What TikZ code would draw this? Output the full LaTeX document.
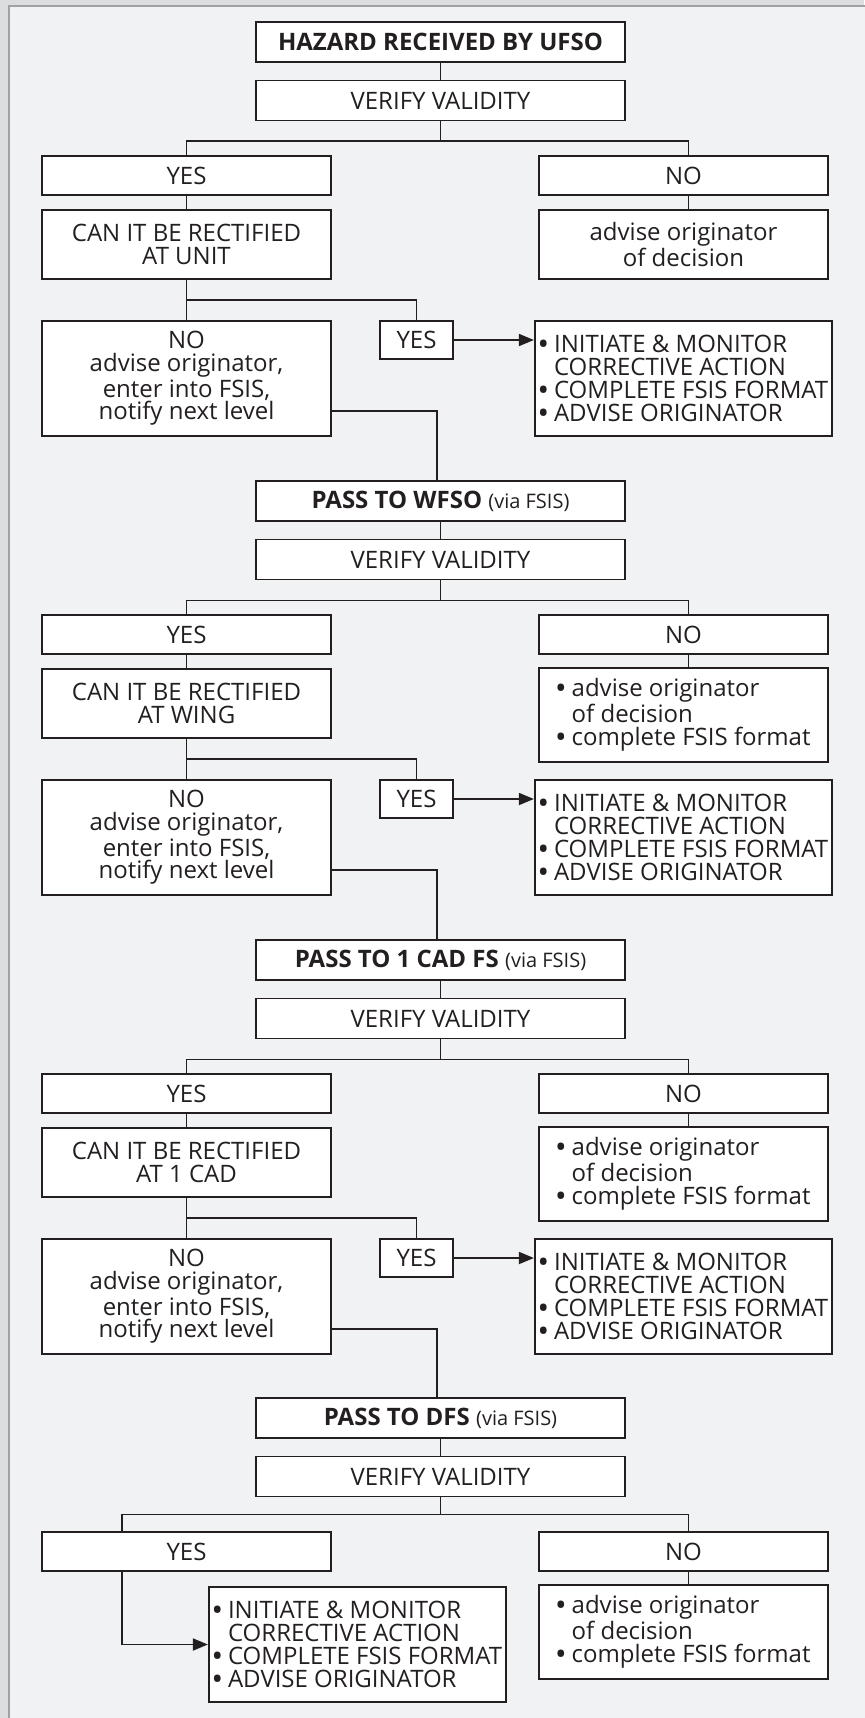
\documentclass[tikz,border=0pt]{standalone}
\usepackage{xcolor}
\usepackage{fontspec}
\setmainfont{Open Sans}
\usepackage{tikz}
\usetikzlibrary{shapes,arrows.meta,positioning}
\definecolor{inkblack}{RGB}{35,31,32}
\definecolor{pagegray}{RGB}{241,242,244}
\definecolor{bandgray}{RGB}{220,221,223}
\definecolor{edgegray}{RGB}{160,161,163}
\newcommand{\bigbul}{\textbf{\textbullet}\ }
\newcommand{\bulgap}{\phantom{\bigbul}}

\begin{document}
\begin{tikzpicture}[node distance=29.25pt, font=\fontsize{12}{11.4}\selectfont,
  box/.style={rectangle, draw=inkblack, line width=0.9pt, fill=white, text=inkblack, inner sep=2pt, align=center},
  headbox/.style={box, minimum width=184.5pt, minimum height=20pt},
  choice/.style={box, minimum width=144.5pt, minimum height=19.5pt},
  query/.style={box, minimum width=144.5pt, minimum height=34.5pt},
  outcome/.style={box, minimum width=144.5pt, minimum height=57.5pt},
  action/.style={outcome, align=left},
  notice/.style={box, minimum width=144.5pt, minimum height=47pt, align=left},
  tag/.style={box, minimum width=36.5pt, minimum height=19pt, inner sep=1pt},
  link/.style={draw=inkblack, line width=0.9pt},
  arrow/.style={link, -{Triangle[length=7.5pt,width=6pt]}}]

  % page and frame
  \useasboundingbox (0,0) rectangle (432pt,-859pt);
  \fill [bandgray] (0,0) rectangle (432pt,-859pt);
  \draw [edgegray, fill=pagegray, line width=1pt] (4.5pt,-3pt) rectangle (470pt,-890pt);

  % UFSO
  \node [headbox] (haz) at (220.25pt,-21pt) {\textbf{HAZARD RECEIVED BY UFSO}};
  \node [headbox, below of=haz] (ver1) {VERIFY VALIDITY};
  \node [choice, below of=ver1, node distance=37.5pt, xshift=-127pt] (yes1) {YES};
  \node [choice, below of=ver1, node distance=37.5pt, xshift=121.5pt] (no1) {NO};
  \node [query, below of=yes1, node distance=34.5pt] (can1) {CAN IT BE RECTIFIED\\AT UNIT};
  \node [query, below of=no1, node distance=34.5pt] (dec1) {advise originator\\of decision};
  \node [outcome, below of=can1, node distance=67pt] (up1) {NO\\advise originator,\\enter into FSIS,\\notify next level};
  \node [tag, below of=can1, node distance=47.75pt, xshift=115pt] (ok1) {YES};
  \node [action, below of=dec1, node distance=67pt] (act1) {\bigbul INITIATE \& MONITOR\\\bulgap CORRECTIVE ACTION\\\bigbul COMPLETE FSIS FORMAT\\\bigbul ADVISE ORIGINATOR};

  % WFSO
  \node [headbox, below of=haz, node distance=229.5pt] (pass2) {\textbf{PASS TO WFSO} {\fontsize{10}{11}\selectfont(via FSIS)}};
  \node [headbox, below of=pass2] (ver2) {VERIFY VALIDITY};
  \node [choice, below of=ver2, node distance=37.5pt, xshift=-127pt] (yes2) {YES};
  \node [choice, below of=ver2, node distance=37.5pt, xshift=121.5pt] (no2) {NO};
  \node [query, below of=yes2, node distance=34.5pt] (can2) {CAN IT BE RECTIFIED\\AT WING};
  \node [notice, below of=no2, node distance=40.25pt] (dec2) {\bigbul advise originator\\\bulgap of decision\\\bigbul complete FSIS format};
  \node [outcome, below of=can2, node distance=67pt] (up2) {NO\\advise originator,\\enter into FSIS,\\notify next level};
  \node [tag, below of=can2, node distance=47.75pt, xshift=115pt] (ok2) {YES};
  \node [action, below of=up2, node distance=0pt, xshift=248.5pt] (act2) {\bigbul INITIATE \& MONITOR\\\bulgap CORRECTIVE ACTION\\\bigbul COMPLETE FSIS FORMAT\\\bigbul ADVISE ORIGINATOR};

  % 1 CAD FS
  \node [headbox, below of=pass2, node distance=229.5pt] (pass3) {\textbf{PASS TO 1 CAD FS} {\fontsize{10}{11}\selectfont(via FSIS)}};
  \node [headbox, below of=pass3] (ver3) {VERIFY VALIDITY};
  \node [choice, below of=ver3, node distance=37.5pt, xshift=-127pt] (yes3) {YES};
  \node [choice, below of=ver3, node distance=37.5pt, xshift=121.5pt] (no3) {NO};
  \node [query, below of=yes3, node distance=34.5pt] (can3) {CAN IT BE RECTIFIED\\AT 1 CAD};
  \node [notice, below of=no3, node distance=40.25pt] (dec3) {\bigbul advise originator\\\bulgap of decision\\\bigbul complete FSIS format};
  \node [outcome, below of=can3, node distance=67pt] (up3) {NO\\advise originator,\\enter into FSIS,\\notify next level};
  \node [tag, below of=can3, node distance=47.75pt, xshift=115pt] (ok3) {YES};
  \node [action, below of=up3, node distance=0pt, xshift=248.5pt] (act3) {\bigbul INITIATE \& MONITOR\\\bulgap CORRECTIVE ACTION\\\bigbul COMPLETE FSIS FORMAT\\\bigbul ADVISE ORIGINATOR};

  % DFS
  \node [headbox, below of=pass3, node distance=229pt] (pass4) {\textbf{PASS TO DFS} {\fontsize{10}{11}\selectfont(via FSIS)}};
  \node [headbox, below of=pass4] (ver4) {VERIFY VALIDITY};
  \node [choice, below of=ver4, node distance=37.5pt, xshift=-127pt] (yes4) {YES};
  \node [choice, below of=ver4, node distance=37.5pt, xshift=121.5pt] (no4) {NO};
  \node [notice, below of=no4, node distance=40.25pt] (dec4) {\bigbul advise originator\\\bulgap of decision\\\bigbul complete FSIS format};
  \node [action, below of=yes4, node distance=46.5pt, xshift=85.5pt] (act4) {\bigbul INITIATE \& MONITOR\\\bulgap CORRECTIVE ACTION\\\bigbul COMPLETE FSIS FORMAT\\\bigbul ADVISE ORIGINATOR};

  % connectors
  \draw [link] (haz) -- (ver1);
  \draw [link] (pass2) -- (ver2);
  \draw [link] (pass3) -- (ver3);
  \draw [link] (pass4) -- (ver4);
  \foreach \n in {1,2,3} {
    \draw [link] (ver\n.south) -- ++(0,-10pt) -| (yes\n.north);
    \draw [link] (ver\n.south) -- ++(0,-10pt) -| ([xshift=2.5pt]no\n.north);
    \draw [link] (yes\n) -- (can\n);
    \draw [link] ([xshift=2.5pt]no\n.south) -- ([xshift=2.5pt]dec\n.north);
    \draw [link] (can\n) -- (up\n);
    \draw [link] (can\n.south) -- ++(0,-10pt) -| (ok\n.north);
    \draw [arrow] (ok\n.east) -- (ok\n.east -| act\n.west);
  }
  \draw [link] ([yshift=-16.25pt]up1.east) -| ([xshift=-1.75pt]pass2.north);
  \draw [link] ([yshift=-16.25pt]up2.east) -| ([xshift=-1.75pt]pass3.north);
  \draw [link] ([yshift=-16.25pt]up3.east) -| ([xshift=-1.75pt]pass4.north);
  \draw [link] (ver4.south) -- ++(0,-8.5pt) -| ([xshift=-32.25pt]yes4.north);
  \draw [link] (ver4.south) -- ++(0,-8.5pt) -| ([xshift=2.5pt]no4.north);
  \draw [link] ([xshift=2.5pt]no4.south) -- ([xshift=2.5pt]dec4.north);
  \draw [arrow] ([xshift=-32.25pt]yes4.south) |- (act4.west);
\end{tikzpicture}
\end{document}
